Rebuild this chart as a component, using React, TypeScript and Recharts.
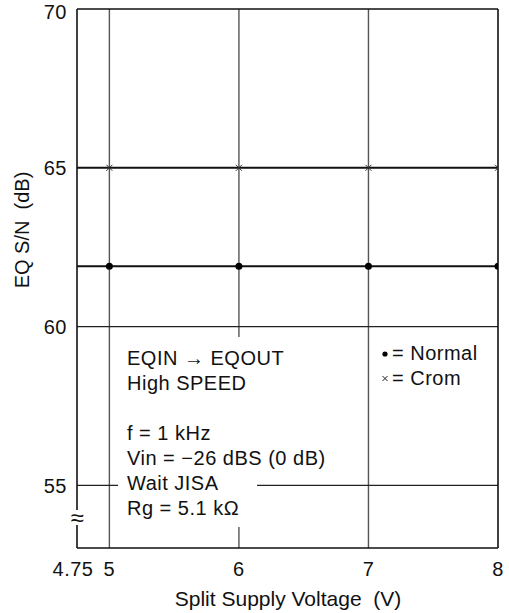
import React from "react";
import { LineChart, Line, XAxis, YAxis, ReferenceLine } from "recharts";

const voltages = [4.75, 5, 6, 7, 8];
const normalSN = [61.9, 61.9, 61.9, 61.9, 61.9];
const cromSN = [65, 65, 65, 65, 65];
const xTicks = [4.75, 5, 6, 7, 8];
const yTicks = [55, 60, 65, 70];
const xGrid = [5, 6, 7];
const yGrid = [60, 55];
const noteLines = ["EQIN \u2192 EQOUT", "High SPEED", "", "f = 1 kHz", "Vin = \u221226 dBS (0 dB)", "Wait JISA", "Rg = 5.1 k\u03A9"];

const data = voltages.map((v, i) => ({ v, normal: normalSN[i], crom: cromSN[i] }));

const FONT = '"Liberation Sans", Arial, Helvetica, sans-serif';
const FS = 20;

const NormalDot = (p: any) => {
  const { cx, cy, index } = p;
  if (index === 0) return <g key={`n${index}`} />;
  return <circle key={`n${index}`} cx={cx} cy={cy} r={3.5} fill="#000" />;
};

const CromDot = (p: any) => {
  const { cx, cy, index } = p;
  if (index === 0) return <g key={`c${index}`} />;
  const s = 3;
  return (
    <path
      key={`c${index}`}
      d={`M${cx - s},${cy - s}L${cx + s},${cy + s}M${cx + s},${cy - s}L${cx - s},${cy + s}`}
      stroke="#333"
      strokeWidth={1}
      fill="none"
    />
  );
};

const XTick = (p: any) => {
  const { x, y, payload } = p;
  const dx = payload.value === 4.75 ? -4 : 0;
  return (
    <text x={x + dx} y={y} dy="0.71em" textAnchor="middle" fontSize={FS} fontFamily={FONT} fill="#111" letterSpacing={0.5}>
      {payload.value}
    </text>
  );
};

const YTick = (p: any) => {
  const { x, y, payload } = p;
  const baseline = Math.max(y + FS * 0.36, 19);
  return (
    <text x={x} y={baseline} textAnchor="end" fontSize={FS} fontFamily={FONT} fill="#111" letterSpacing={0.5}>
      {payload.value}
    </text>
  );
};

export default function App() {
  return (
    <div style={{ position: "absolute", left: 0, top: 0, width: 509, height: 613, background: "#fff" }}>
      <LineChart
        width={509}
        height={613}
        data={data}
        margin={{ top: 9, right: 11, bottom: 0, left: 0 }}
      >
        <XAxis
          dataKey="v"
          type="number"
          domain={[4.75, 8]}
          ticks={xTicks}
          height={65}
          tickLine={false}
          tickSize={0}
          tickMargin={14}
          axisLine={{ stroke: "#111", strokeWidth: 1.6 }}
          tick={<XTick />}
          interval={0}
          allowDataOverflow
        />
        <YAxis
          type="number"
          domain={[53.03, 70]}
          ticks={yTicks}
          width={77}
          tickLine={false}
          tickSize={0}
          tickMargin={10}
          axisLine={{ stroke: "#111", strokeWidth: 1.6 }}
          tick={<YTick />}
          interval={0}
          allowDataOverflow
        />
        {xGrid.map((x) => (
          <ReferenceLine key={`gx${x}`} x={x} stroke="#555" strokeWidth={1.4} />
        ))}
        {yGrid.map((y) => (
          <ReferenceLine key={`gy${y}`} y={y} stroke="#222" strokeWidth={1.2} />
        ))}
        <ReferenceLine y={70} stroke="#111" strokeWidth={1.6} />
        <ReferenceLine x={8} stroke="#111" strokeWidth={1.6} />
        <Line
          dataKey="crom"
          type="linear"
          stroke="#111"
          strokeWidth={2}
          dot={CromDot}
          activeDot={false}
          isAnimationActive={false}
        />
        <Line
          dataKey="normal"
          type="linear"
          stroke="#111"
          strokeWidth={2}
          dot={NormalDot}
          activeDot={false}
          isAnimationActive={false}
        />
      </LineChart>
      <svg
        width={509}
        height={613}
        style={{ position: "absolute", left: 0, top: 0, pointerEvents: "none" }}
        fontFamily={FONT}
      >
        <rect x={118} y={337} width={139} height={190} fill="#fff" />
        {noteLines.map((t, i) => (
          <text key={i} x={127} y={365 + i * 25} fontSize={FS} fill="#111" letterSpacing={0.5}>
            {t}
          </text>
        ))}
        <circle cx={385} cy={354} r={2.6} fill="#000" />
        <text x={392} y={360} fontSize={FS} fill="#111" letterSpacing={0.5}>= Normal</text>
        <path d="M382.5,376L387.5,381M387.5,376L382.5,381" stroke="#222" strokeWidth={1} />
        <text x={392} y={385} fontSize={FS} fill="#111" letterSpacing={0.5}>= Crom</text>
        <rect x={69} y={510} width={16} height={15} fill="#fff" />
        <text x={77} y={526} fontSize={24} textAnchor="middle" fill="#111">{"\u2248"}</text>
        <text x={288} y={606} fontSize={21} textAnchor="middle" fill="#111">
          {"Split Supply Voltage\u00a0\u00a0(V)"}
        </text>
        <text
          x={0}
          y={0}
          fontSize={FS}
          textAnchor="middle"
          fill="#111"
          transform="translate(29,230) rotate(-90)"
        >
          {"EQ S/N\u00a0\u00a0(dB)"}
        </text>
      </svg>
    </div>
  );
}
